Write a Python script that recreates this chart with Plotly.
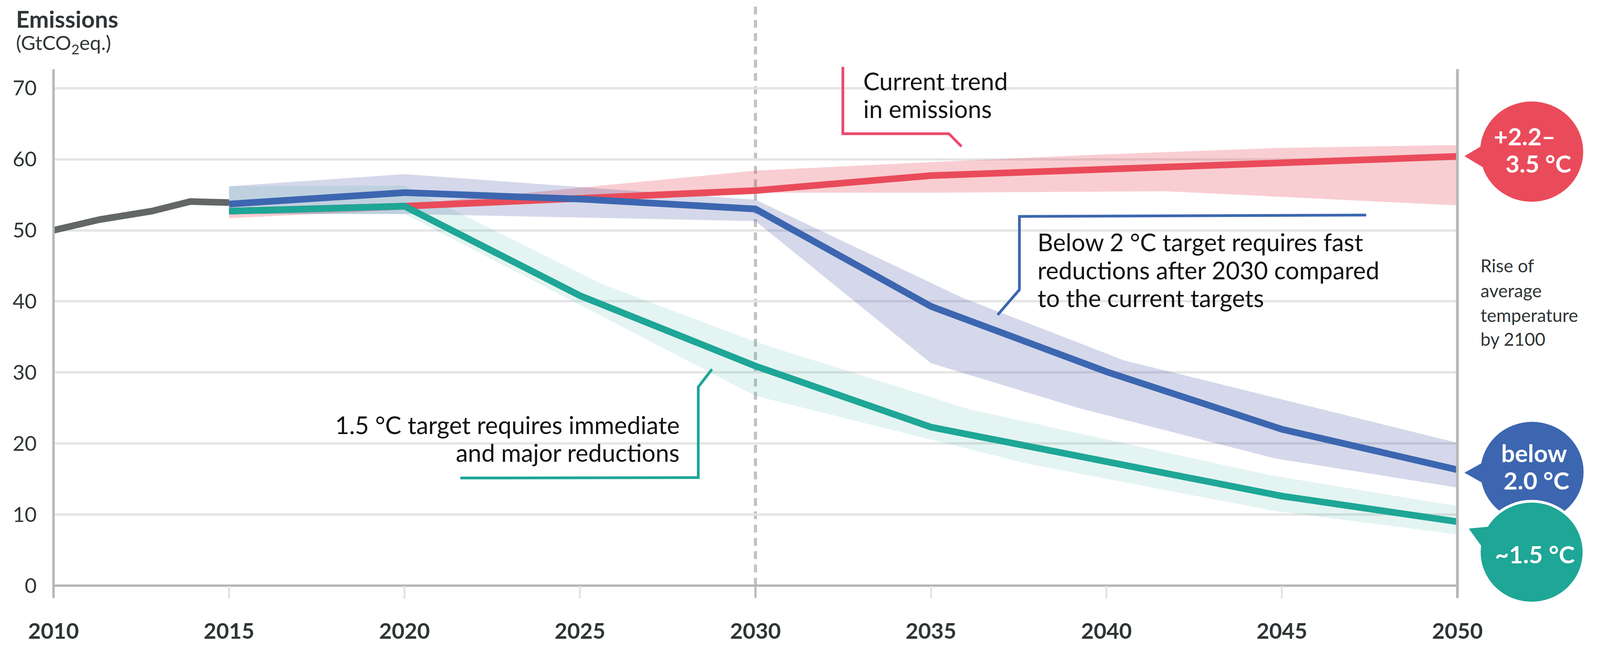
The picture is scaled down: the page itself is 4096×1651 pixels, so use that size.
import plotly.graph_objects as go

# ---------------- data ----------------
hist_years = [2010, 2011.3, 2012.8, 2013.9, 2015]
hist_vals = [50.0, 51.5, 52.7, 54.05, 53.9]

proj_years = [2015, 2020, 2025, 2030, 2035, 2040, 2045, 2050]
trend_vals = [52.7, 53.4, 54.5, 55.6, 57.7, 58.6, 59.5, 60.4]
below2_vals = [53.7, 55.3, 54.4, 53.0, 39.3, 30.1, 22.0, 16.3]
onefive_vals = [52.7, 53.4, 40.8, 30.9, 22.3, 17.5, 12.6, 9.0]

trend_hi_years = [2015, 2020, 2030, 2035, 2040, 2045, 2050]
trend_hi = [53.2, 53.6, 58.4, 59.6, 60.7, 61.6, 62.0]
trend_lo_years = [2015, 2020, 2030, 2035, 2041.7, 2050]
trend_lo = [51.7, 52.9, 55.3, 55.3, 55.5, 53.5]

below2_hi_years = [2015, 2020, 2030, 2035.9, 2040.5, 2050]
below2_hi = [56.2, 57.9, 54.3, 40.5, 31.7, 20.1]
below2_lo_years = [2015, 2020, 2030, 2035, 2039.2, 2044.8, 2050]
below2_lo = [52.3, 52.3, 51.3, 31.3, 25.0, 17.9, 13.8]

onefive_hi_years = [2015, 2020, 2025.6, 2030, 2036.1, 2044.7, 2050]
onefive_hi = [56.2, 56.3, 42.5, 34.3, 24.8, 15.5, 11.2]
onefive_lo_years = [2015, 2020, 2030, 2037.8, 2044.8, 2050]
onefive_lo = [52.3, 52.3, 26.7, 17.1, 10.5, 7.2]

x_ticks = [2010, 2015, 2020, 2025, 2030, 2035, 2040, 2045, 2050]
y_ticks = [0, 10, 20, 30, 40, 50, 60, 70]

# ---------------- styling ----------------
W, H = 4096, 1651
PL, PR, PT, PB = 129.2, 3723.0, 169.0, 1528.0
YMAX = 72.68
FONT = "Lato"
DARK = "#2f3536"
AXIS_GRAY = "#b5b7b6"
GRID = "#e5e5e5"

RED, BLUE, TEAL, GRAY = "#EA4B5A", "#3C66B0", "#1EA696", "#636867"
RED_BAND = "rgba(230,60,75,0.25)"
BLUE_BAND = "rgba(45,60,150,0.20)"
TEAL_BAND = "rgba(31,167,151,0.12)"
LW = 17


def xp(px):
    return (px - PL) / (PR - PL)


def yp(py):
    return (PB - py) / (PB - PT)


def dxp(year):
    return (year - 2010) / 40.0


def dyp(val):
    return val / YMAX


fig = go.Figure()


def band(xh, yh, xl, yl, color):
    fig.add_trace(go.Scatter(x=list(xh) + list(xl)[::-1], y=list(yh) + list(yl)[::-1],
                             fill="toself", fillcolor=color, mode="lines",
                             line=dict(width=0), hoverinfo="skip", showlegend=False))


band(trend_hi_years, trend_hi, trend_lo_years, trend_lo, RED_BAND)
band(below2_hi_years, below2_hi, below2_lo_years, below2_lo, BLUE_BAND)
band(onefive_hi_years, onefive_hi, onefive_lo_years, onefive_lo, TEAL_BAND)

fig.add_trace(go.Scatter(x=hist_years, y=hist_vals, mode="lines",
                         line=dict(color=GRAY, width=LW), showlegend=False, hoverinfo="skip"))
fig.add_trace(go.Scatter(x=proj_years, y=trend_vals, mode="lines",
                         line=dict(color=RED, width=LW), showlegend=False, hoverinfo="skip"))
fig.add_trace(go.Scatter(x=proj_years, y=below2_vals, mode="lines",
                         line=dict(color=BLUE, width=LW), showlegend=False, hoverinfo="skip"))
fig.add_trace(go.Scatter(x=proj_years, y=onefive_vals, mode="lines",
                         line=dict(color=TEAL, width=LW), showlegend=False, hoverinfo="skip"))

shapes = []
# dashed 2030 marker
shapes.append(dict(type="line", xref="paper", yref="paper", x0=dxp(2030), x1=dxp(2030),
                   y0=0, y1=yp(0), layer="below",
                   line=dict(color="#c2c2c2", width=8, dash="20px,14px")))
# axis verticals and dark ticks
tick_bottom = yp(PB + 32)
shapes.append(dict(type="line", xref="paper", yref="paper", x0=0, x1=0, y0=tick_bottom, y1=1,
                   line=dict(color=AXIS_GRAY, width=6), layer="above"))
shapes.append(dict(type="line", xref="paper", yref="paper", x0=1, x1=1, y0=tick_bottom, y1=1,
                   line=dict(color=AXIS_GRAY, width=7), layer="above"))
shapes.append(dict(type="line", xref="paper", yref="paper", x0=dxp(2030), x1=dxp(2030),
                   y0=tick_bottom, y1=0, line=dict(color=AXIS_GRAY, width=5)))


def poly(points, color, width, closed=False, fill=None, linecolor=None):
    d = "M " + " L ".join(f"{x:.5f},{y:.5f}" for x, y in points)
    if closed:
        d += " Z"
    s = dict(type="path", xref="paper", yref="paper", path=d, layer="above",
             line=dict(color=linecolor or color, width=width))
    if fill:
        s["fillcolor"] = fill
    return s


# callout lines (data coordinates converted to paper)
def dpts(pts):
    return [(dxp(a), dyp(b)) for a, b in pts]


shapes.append(poly(dpts([(2032.49, 73.0), (2032.49, 63.6), (2035.51, 63.6), (2035.87, 61.8)]), "#EC4A6D", 7))
shapes.append(poly(dpts([(2047.40, 52.14), (2037.52, 51.95), (2037.52, 41.64), (2036.9, 38.1)]), BLUE, 7))
shapes.append(poly(dpts([(2021.59, 15.14), (2028.37, 15.2), (2028.37, 27.95), (2028.76, 30.45)]), TEAL, 7))


# bubbles (output pixel coordinates)
def circle(cx, cy, r, color, outline=None, ow=0):
    return dict(type="circle", xref="paper", yref="paper", x0=xp(cx - r), x1=xp(cx + r),
                y0=yp(cy + r), y1=yp(cy - r), fillcolor=color, layer="above",
                line=dict(color=outline or color, width=ow))


def tri(pts, color):
    return poly([(xp(a), yp(b)) for a, b in pts], color, 0, closed=True, fill=color)


shapes.append(circle(3913, 386, 132, RED))
shapes.append(tri([(3741, 398), (3790, 368), (3796, 432)], RED))
shapes.append(circle(3914, 1229, 132, BLUE))
shapes.append(tri([(3741, 1231), (3790, 1203), (3791, 1260)], BLUE))
shapes.append(circle(3913, 1440, 134, TEAL, outline="white", ow=7))
shapes.append(tri([(3752, 1378), (3812, 1372), (3790, 1432)], TEAL))

annotations = []


def txt(s, px, base, size, color, anchor="left", bold=False):
    annotations.append(dict(text=s, x=xp(px), y=yp(base), xref="paper", yref="paper",
                            xanchor=anchor, yanchor="middle", yshift=0.36 * size,
                            showarrow=False,
                            font=dict(family=FONT, size=size, color=color,
                                      weight="bold" if bold else "normal")))


txt("Emissions", 31.5, 59, 60, DARK, bold=True)
txt("(GtCO<sub>2</sub>eq.)", 31, 122, 51, DARK)

txt("Current trend", 2200, 222.6, 62, "#111111")
txt("in emissions", 2200, 295.7, 62, "#111111")

txt("Below 2 °C target requires fast", 2646, 646, 62, "#111111")
txt("reductions after 2030 compared", 2646, 720, 62, "#111111")
txt("to the current targets", 2646, 793, 62, "#111111")

txt("1.5 °C target requires immediate", 1734, 1127.7, 62, "#111111", anchor="right")
txt("and major reductions", 1734, 1200.8, 62, "#111111", anchor="right")

txt("Rise of", 3780, 703, 46, DARK)
txt("average", 3780, 768, 46, DARK)
txt("temperature", 3780, 833, 46, DARK)
txt("by 2100", 3780, 896, 46, DARK)

txt("+2.2–", 3895, 368, 62, "white", anchor="center", bold=True)
txt("3.5 °C", 3930, 440, 62, "white", anchor="center", bold=True)
txt("below", 3919, 1201, 62, "white", anchor="center", bold=True)
txt("2.0 °C", 3925, 1273, 62, "white", anchor="center", bold=True)
txt("~1.5 °C", 3921, 1468, 62, "white", anchor="center", bold=True)

fig.update_layout(
    width=W, height=H,
    margin=dict(l=PL, r=W - PR, t=PT, b=H - PB, pad=0),
    paper_bgcolor="white", plot_bgcolor="white",
    showlegend=False, hovermode=False,
    shapes=shapes, annotations=annotations,
    xaxis=dict(range=[2010, 2050], tickvals=x_ticks, ticktext=[str(v) for v in x_ticks],
               showgrid=False, zeroline=False, showline=False,
               ticks="outside", ticklen=32, tickwidth=5, tickcolor="#e3e3e3",
               ticklabelstandoff=36,
               tickfont=dict(family=FONT, size=56, color=DARK, weight="bold")),
    yaxis=dict(range=[0, YMAX], tickvals=y_ticks, ticktext=[str(v) for v in y_ticks],
               showgrid=True, gridcolor=GRID, gridwidth=6,
               zeroline=True, zerolinecolor=AXIS_GRAY, zerolinewidth=6,
               showline=False, ticks="", ticklabelstandoff=42,
               tickfont=dict(family=FONT, size=53, color=DARK)),
)

fig.write_html("out.html", config={"displayModeBar": False})
